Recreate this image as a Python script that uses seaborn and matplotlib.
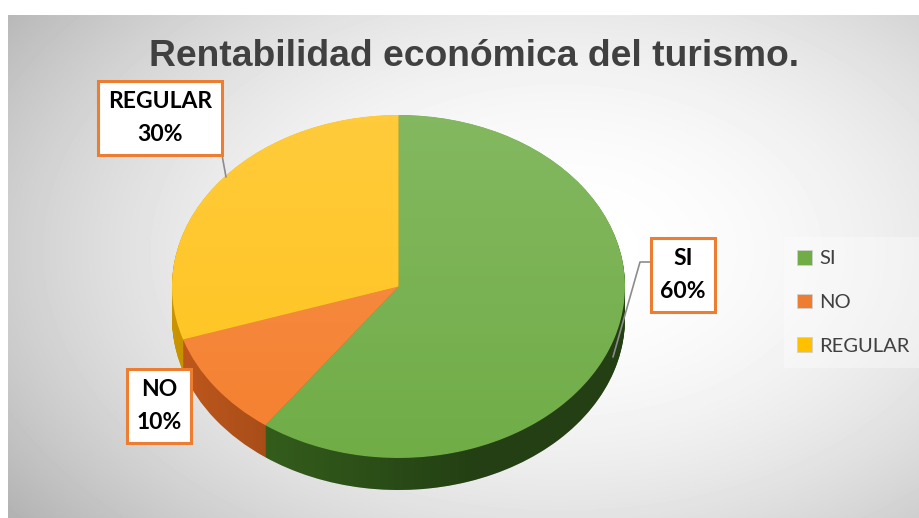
import numpy as np
import seaborn as sns
import matplotlib.pyplot as plt
from matplotlib.patches import Patch, Ellipse
from matplotlib.path import Path
from matplotlib.patches import PathPatch

sns.set_theme(style="white")

# data
categories = ["SI", "NO", "REGULAR"]
values = [60, 10, 30]
title = "Rentabilidad económica del turismo."

top_colors = ["#70AD47", "#F5802F", "#FFC31C"]
side_colors = ["#3B6A20", "#C0581C", "#C99400"]
legend_colors = ["#70AD47", "#ED7D31", "#FFC000"]

W, H = 920, 518
fig = plt.figure(figsize=(W / 100, H / 100), dpi=100)

# background with radial gradient
bg = fig.add_axes([8 / W, 0, 1 - 8 / W, (H - 15) / H])
yy, xx = np.mgrid[15:H, 8:W]
r2 = ((xx - 560) / 520.0) ** 2 + ((yy - 250) / 330.0) ** 2
shade = np.clip(1 - 0.17 * r2, 0, 1)
bg.imshow(shade, cmap="gray", vmin=0, vmax=1, aspect="auto", interpolation="bilinear")
bg.set_axis_off()

# pie axes (elliptical via auto aspect)
depth = 32 / 171.5
ax = fig.add_axes([172 / W, 28 / H, 453 / W, 375 / H])
for k in np.linspace(depth, 0.002, 40):
    ax.pie(values, colors=side_colors, startangle=90, counterclock=False,
           center=(0, -k), wedgeprops=dict(linewidth=0))
wedges, _ = ax.pie(values, colors=top_colors, startangle=90, counterclock=False,
                   wedgeprops=dict(linewidth=0))
ax.set_aspect("auto")
ax.set_axis_off()

# shading on the side
th = np.linspace(np.pi, 2 * np.pi, 100)
verts = list(zip(np.cos(th), np.sin(th) - depth)) + list(zip(np.cos(th[::-1]), np.sin(th[::-1])))
side_path = PathPatch(Path(verts + [verts[0]]), transform=ax.transData, fc="none", ec="none")
ax.add_patch(side_path)
gx = np.linspace(0, 1, 200)
grad = np.zeros((2, 200, 4))
grad[..., 3] = np.clip(gx * 0.6, 0, 0.4)
im = ax.imshow(grad, extent=(-1, 1, -1 - depth, 0), aspect="auto", zorder=5)
im.set_clip_path(side_path)

# light sheen on the top
top_clip = Ellipse((0, 0), 2, 2, transform=ax.transData, fc="none", ec="none")
ax.add_patch(top_clip)
sheen = np.ones((200, 2, 4))
sheen[..., 3] = np.linspace(0.14, 0, 200)[:, None]
im2 = ax.imshow(sheen, extent=(-1, 1, -1, 1), aspect="auto", zorder=5)
im2.set_clip_path(top_clip)
ax.set_xlim(-1, 1)
ax.set_ylim(-1 - depth, 1)

# overlay in pixel coords for text and labels
ov = fig.add_axes([0, 0, 1, 1], facecolor="none")
ov.set_xlim(0, W)
ov.set_ylim(H, 0)
ov.set_axis_off()

ov.text(474, 57, title, ha="center", va="center", fontsize=26.8, fontweight="bold",
        family="Liberation Sans", color="#404040")

label_pos = {"SI": (683, 275), "NO": (159, 406), "REGULAR": (160, 118)}
for cat, val in zip(categories, values):
    x, y = label_pos[cat]
    ov.text(x, y, f"{cat}\n{val}%", ha="center", va="center", fontsize=16.5,
            fontweight="bold", family="Lato", color="black", linespacing=1.75,
            bbox=dict(boxstyle="square,pad=0.42", fc="white", ec="#ED7D31", lw=2.2))

ov.plot([651, 640, 613], [262, 262, 357], color="#8c8c8c", lw=1.2)
ov.plot([222, 226], [155, 177], color="#8c8c8c", lw=1.2)

handles = [Patch(facecolor=c, edgecolor="#d0d0d0", lw=0.6) for c in legend_colors]
fig.legend(handles, categories, loc="upper left", bbox_to_anchor=(784 / W, 1 - 237 / H),
           frameon=True, facecolor="white", framealpha=0.35, edgecolor="none",
           fancybox=False, prop=dict(family="Lato", size=14.5), labelcolor="#404040",
           handlelength=0.75, handleheight=0.75, handletextpad=0.35, labelspacing=1.3,
           borderpad=0.65, borderaxespad=0)

fig.savefig("out.png", dpi=100)
